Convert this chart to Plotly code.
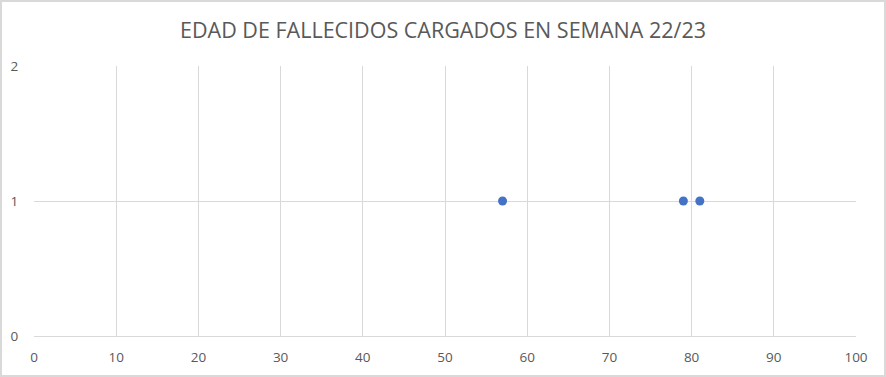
import plotly.graph_objects as go

ages = [57, 79, 81]
counts = [1, 1, 1]
x_ticks = list(range(0, 101, 10))
y_ticks = [0, 1, 2]
title = "EDAD DE FALLECIDOS CARGADOS EN SEMANA 22/23"

W, H = 886, 377
ml, mr, mt, mb = 34, 30, 66, 41
pw, ph = W - ml - mr, H - mt - mb

fig = go.Figure(go.Scatter(
    x=ages, y=counts, mode="markers",
    marker=dict(color="#4472C4", size=9),
    hoverinfo="x+y",
))

grid = "#d9d9d9"
fig.update_layout(
    width=W, height=H,
    margin=dict(l=ml, r=mr, t=mt, b=mb),
    paper_bgcolor="white", plot_bgcolor="white",
    font=dict(family="Open Sans, sans-serif", color="#595959", size=13.5),
    title=dict(text=title, x=0.5, xanchor="center", y=1 - 30 / H, yanchor="middle",
               font=dict(size=21.5, color="#595959")),
    showlegend=False,
    xaxis=dict(range=[0, 100], tickvals=x_ticks, ticktext=[str(v) for v in x_ticks],
               showgrid=True, gridcolor=grid, gridwidth=1, zeroline=False,
               showline=True, linecolor=grid, linewidth=1, mirror=False,
               ticks="outside", ticklen=9, tickcolor="rgba(0,0,0,0)", fixedrange=True),
    yaxis=dict(range=[0, 2], tickvals=y_ticks, ticktext=[str(v) for v in y_ticks],
               showgrid=True, gridcolor=grid, gridwidth=1, zeroline=False,
               showline=False, ticks="outside", ticklen=12, tickcolor="rgba(0,0,0,0)",
               fixedrange=True),
)

# outer chart border
fig.add_shape(type="rect", xref="paper", yref="paper",
              x0=(-ml + 1) / pw, x1=(pw + mr - 1) / pw,
              y0=(-mb + 1) / ph, y1=(ph + mt - 1) / ph,
              line=dict(color="#d9d9d9", width=2), fillcolor="rgba(0,0,0,0)", layer="below")

fig.write_html("out.html", config={"displayModeBar": False},
               post_script="document.body.style.margin='0';document.body.style.overflow='hidden';")
